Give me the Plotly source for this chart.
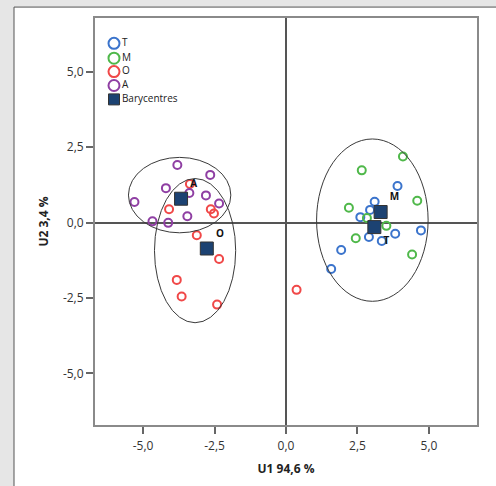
import plotly.graph_objects as go

# ---- data ----
groups = ["T", "M", "O", "A"]
colors = {"T": "#3b74cc", "M": "#4fb84a", "O": "#f04848", "A": "#8f3fa3"}

T_x = [3.90, 3.10, 2.94, 2.60, 2.90, 3.35, 3.82, 4.72, 1.93, 1.58]
T_y = [1.21, 0.69, 0.42, 0.18, -0.48, -0.61, -0.37, -0.26, -0.91, -1.54]

M_x = [4.09, 2.65, 4.59, 2.20, 2.83, 3.51, 2.44, 4.41]
M_y = [2.19, 1.73, 0.72, 0.49, 0.15, -0.11, -0.52, -1.06]

O_x = [-3.36, -4.09, -2.63, -2.52, -3.12, -2.34, -3.82, -3.65, -2.41, 0.37]
O_y = [1.28, 0.44, 0.44, 0.30, -0.42, -1.21, -1.90, -2.45, -2.72, -2.23]

A_x = [-3.80, -2.65, -4.20, -3.38, -2.80, -2.34, -5.30, -3.45, -4.67, -4.12]
A_y = [1.91, 1.58, 1.14, 0.98, 0.90, 0.63, 0.68, 0.21, 0.04, -0.01]

bary_labels = ["T", "M", "O", "A"]
bary_x = [3.09, 3.31, -2.77, -3.67]
bary_y = [-0.15, 0.35, -0.86, 0.79]

# ellipses: centre x, centre y, radius x, radius y
ell_cx = [-3.72, -3.18, 3.02]
ell_cy = [0.91, -0.93, 0.08]
ell_rx = [1.79, 1.42, 1.95]
ell_ry = [1.25, 2.39, 2.69]

tick_vals = [-5.0, -2.5, 0.0, 2.5, 5.0]
tick_text = ["-5,0", "-2,5", "0,0", "2,5", "5,0"]

legend_labels = ["T", "M", "O", "A", "Barycentres"]

x_title = "U1 94,6 %"
y_title = "U2 3,4 %"

# ---- figure ----
W, H = 496, 486
L, R, T, B = 95, 19, 18, 58
pw, ph = W - L - R, H - T - B

series = {"T": (T_x, T_y), "M": (M_x, M_y), "O": (O_x, O_y), "A": (A_x, A_y)}

fig = go.Figure()
for g in groups:
    xs, ys = series[g]
    fig.add_trace(go.Scatter(
        x=xs, y=ys, mode="markers", name=g, showlegend=False,
        marker=dict(symbol="circle-open", size=8, color=colors[g],
                    line=dict(width=2, color=colors[g])),
    ))

fig.add_trace(go.Scatter(
    x=bary_x, y=bary_y, mode="markers+text", text=bary_labels,
    textposition=["bottom right", "top right", "top right", "top right"],
    textfont=dict(family="Open Sans", size=10, color="#111", weight="bold"),
    showlegend=False,
    marker=dict(symbol="square", size=13, color="#1c4272",
                line=dict(width=1, color="#333")),
))

# custom legend on overlay axes (paper-like 0..1)
def px_to_fx(px):
    return (px - L) / pw

def py_to_fy(py):
    return (H - B - py) / ph

leg_x = [px_to_fx(114)] * 5
leg_y = [py_to_fy(p) for p in [43.5, 58.5, 72, 86, 100]]
leg_sym = ["circle-open"] * 4 + ["square"]
leg_col = [colors[g] for g in groups] + ["#1c4272"]
fig.add_trace(go.Scatter(
    x=leg_x, y=leg_y, xaxis="x2", yaxis="y2", mode="markers+text",
    text=legend_labels, textposition="middle right",
    textfont=dict(family="Open Sans", size=10, color="#222"),
    showlegend=False, hoverinfo="skip",
    marker=dict(symbol=leg_sym, size=11, color=leg_col,
                line=dict(width=[2, 2, 2, 2, 1], color=leg_col[:4] + ["#333"])),
))

shapes = []
# white panel
shapes.append(dict(type="rect", xref="paper", yref="paper", layer="below",
                   x0=(14 - L) / pw, x1=(W + 10 - L) / pw,
                   y0=(H - B - (H + 10)) / ph, y1=(H - B - 7) / ph,
                   fillcolor="white", line=dict(color="#555", width=1)))
for cx, cy, rx, ry in zip(ell_cx, ell_cy, ell_rx, ell_ry):
    shapes.append(dict(type="circle", xref="x", yref="y", layer="above",
                       x0=cx - rx, x1=cx + rx, y0=cy - ry, y1=cy + ry,
                       line=dict(color="#3a3a3a", width=1)))

axis_common = dict(
    tickvals=tick_vals, ticktext=tick_text, showgrid=False,
    zeroline=True, zerolinecolor="#555", zerolinewidth=1.5,
    showline=True, linecolor="#8a8a8a", linewidth=2, mirror=True,
    ticks="outside", ticklen=7, tickwidth=1.5, tickcolor="#666",
    tickfont=dict(family="Open Sans", size=12, color="#333"),
)

fig.update_layout(
    width=W, height=H,
    margin=dict(l=L, r=R, t=T, b=B),
    paper_bgcolor="#e6e6e6", plot_bgcolor="white",
    shapes=shapes,
    xaxis=dict(range=[-6.68, 6.68], **axis_common, ticklabelstandoff=2,
               title=dict(text=x_title, standoff=11,
                          font=dict(family="Open Sans", size=12, color="#222", weight="bold"))),
    yaxis=dict(range=[-6.71, 6.78], **axis_common,
               title=dict(text=y_title, standoff=12,
                          font=dict(family="Open Sans", size=12, color="#222", weight="bold"))),
    xaxis2=dict(range=[0, 1], overlaying="x", visible=False, fixedrange=True),
    yaxis2=dict(range=[0, 1], overlaying="y", visible=False, fixedrange=True),
    showlegend=False,
)

fig.write_html("out.html", config={"displayModeBar": False},
               post_script="document.body.style.margin='0';document.body.style.background='#e6e6e6';")
